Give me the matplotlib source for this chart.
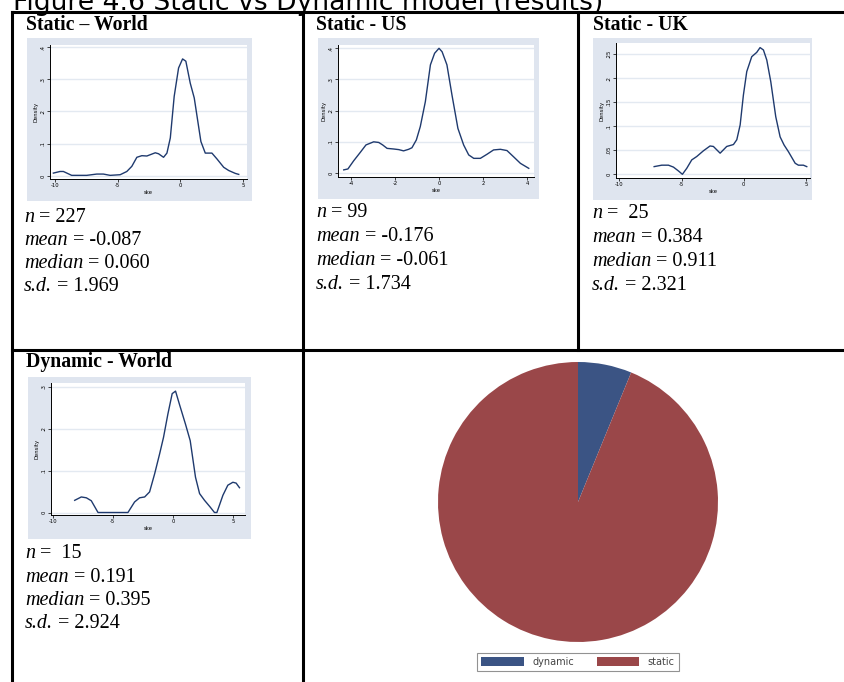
import matplotlib
matplotlib.use("Agg")
import matplotlib.pyplot as plt
from matplotlib.lines import Line2D

# ---------------- data ----------------
title = "Figure 4.6 Static vs Dynamic model (results)"
panel_titles = ["Static \u2013 World", "Static - US", "Static - UK", "Dynamic - World"]

world_x = [-10.13, -9.6, -9.33, -8.67, -7.47, -6.67, -6.14, -5.6, -4.8, -4.27, -3.87, -3.47, -3.07,
           -2.67, -2.0, -1.74, -1.34, -1.07, -0.8, -0.49, -0.14, 0.18, 0.44, 0.79, 1.11, 1.64,
           1.99, 2.52, 2.92, 3.46, 3.86, 4.39, 4.66]
world_y = [0.009, 0.014, 0.014, 0.002, 0.002, 0.006, 0.006, 0.002, 0.004, 0.014, 0.030, 0.058, 0.063,
           0.062, 0.072, 0.069, 0.058, 0.071, 0.118, 0.247, 0.335, 0.363, 0.356, 0.288, 0.242, 0.107,
           0.071, 0.071, 0.053, 0.027, 0.017, 0.008, 0.005]

us_x = [-4.33, -4.14, -3.88, -3.58, -3.32, -2.97, -2.74, -2.56, -2.36, -2.06, -1.83, -1.61, -1.38,
        -1.23, -1.03, -0.85, -0.62, -0.39, -0.2, 0.0, 0.14, 0.36, 0.59, 0.86, 1.12, 1.35, 1.58,
        1.88, 2.18, 2.48, 2.79, 3.09, 3.39, 3.70, 4.08]
us_y = [0.010, 0.013, 0.039, 0.066, 0.090, 0.100, 0.098, 0.090, 0.079, 0.077, 0.075, 0.071, 0.076,
        0.081, 0.106, 0.149, 0.229, 0.347, 0.384, 0.400, 0.389, 0.347, 0.250, 0.143, 0.090, 0.058,
        0.047, 0.047, 0.060, 0.074, 0.076, 0.072, 0.052, 0.031, 0.015]

uk_x = [-7.2, -6.59, -6.05, -5.65, -5.25, -4.93, -4.58, -4.18, -3.78, -3.24, -2.71, -2.44, -1.9,
        -1.37, -0.83, -0.56, -0.29, -0.03, 0.24, 0.64, 1.04, 1.31, 1.58, 1.85, 2.17, 2.57, 2.92,
        3.24, 3.59, 4.13, 4.39, 4.79, 5.06]
uk_y = [0.016, 0.019, 0.019, 0.015, 0.007, 0.000, 0.0125, 0.030, 0.037, 0.049, 0.059, 0.058, 0.044,
        0.058, 0.062, 0.072, 0.103, 0.165, 0.214, 0.245, 0.254, 0.264, 0.259, 0.238, 0.193, 0.120,
        0.078, 0.061, 0.047, 0.023, 0.019, 0.019, 0.016]

dyn_x = [-8.17, -7.62, -7.2, -6.79, -6.23, -3.74, -3.19, -2.77, -2.35, -1.94, -1.52, -1.11, -0.78,
         -0.42, -0.06, 0.22, 0.55, 1.05, 1.44, 1.88, 2.22, 2.63, 3.1, 3.46, 3.66, 4.16, 4.57,
         4.99, 5.26, 5.54]
dyn_y = [0.029, 0.037, 0.035, 0.028, 0.000, 0.000, 0.025, 0.035, 0.037, 0.049, 0.092, 0.139, 0.179,
         0.234, 0.283, 0.289, 0.257, 0.210, 0.171, 0.084, 0.045, 0.029, 0.013, 0.000, 0.000, 0.041,
         0.065, 0.072, 0.070, 0.059]

ticks_x_wide = [-10, -5, 0, 5]
ticks_x_us = [-4, -2, 0, 2, 4]
ticks_y_01 = [0, 0.1, 0.2, 0.3, 0.4]
ticks_y_uk = [0, 0.05, 0.1, 0.15, 0.2, 0.25]
ticks_y_dyn = [0, 0.1, 0.2, 0.3]

stat_labels = ["n", "mean", "median", "s.d."]
world_stats = ["227", "-0.087", "0.060", "1.969"]
us_stats = ["99", "-0.176", "-0.061", "1.734"]
uk_stats = [" 25", "0.384", "0.911", "2.321"]
dyn_stats = [" 15", "0.191", "0.395", "2.924"]

pie_labels = ["dynamic", "static"]
pie_values = [15, 227]

# ---------------- style ----------------
W, H = 845, 682
fig = plt.figure(figsize=(W / 100, H / 100), dpi=100)
fig.patch.set_facecolor('white')
renderer = fig.canvas.get_renderer()

REGION = '#DFE5EF'
GRID = '#E3E9F1'
LINE = '#1F3A6E'
BLUE = '#3B5484'
RED = '#9A4749'
SERIF = 'Liberation Serif'


def frect(x0, y0, x1, y1):
    return [x0 / W, 1 - y1 / H, (x1 - x0) / W, (y1 - y0) / H]


def fline(x0, y0, x1, y1, lw=2.2):
    fig.add_artist(Line2D([x0 / W, x1 / W], [1 - y0 / H, 1 - y1 / H],
                          transform=fig.transFigure, color='black', lw=lw,
                          solid_capstyle='projecting'))


def lims(p0, p1, ref_a, ref_b):
    s = (ref_b[1] - ref_a[1]) / (ref_b[0] - ref_a[0])
    return ref_a[1] + (p0 - ref_a[0]) * s, ref_a[1] + (p1 - ref_a[0]) * s


def fmt(v):
    if v == 0:
        return "0"
    s = ("%g" % v)
    return s.replace("0.", ".") if abs(v) < 1 else s


def mini(graph, box, xref, yref, xs, ys, xticks, yticks):
    gx0, gy0, gx1, gy1 = graph
    bg = fig.add_axes(frect(gx0, gy0, gx1, gy1))
    bg.set_facecolor(REGION)
    bg.set_xticks([]); bg.set_yticks([])
    for s in bg.spines.values():
        s.set_visible(False)
    bx0, by0, bx1, by1 = box
    ax = fig.add_axes(frect(bx0, by0, bx1, by1))
    ax.set_facecolor('white')
    ax.set_xlim(*lims(bx0, bx1, xref[0], xref[1]))
    ax.set_ylim(*lims(by1, by0, yref[0], yref[1]))
    for t in yticks:
        ax.axhline(t, color=GRID, lw=1.0, zorder=1)
    ax.plot(xs, ys, color=LINE, lw=1.0, zorder=3)
    ax.set_xticks(xticks)
    ax.set_xticklabels([fmt(t) for t in xticks])
    ax.set_yticks(yticks)
    ax.set_yticklabels([fmt(t) for t in yticks], rotation=90, va='center')
    ax.tick_params(axis='both', labelsize=3.8, length=2, width=0.6, pad=1.2, color='#222')
    ax.spines['top'].set_visible(False)
    ax.spines['right'].set_visible(False)
    ax.spines['left'].set_linewidth(0.7)
    ax.spines['bottom'].set_linewidth(0.7)
    ax.set_ylabel("Density", fontsize=3.8, labelpad=1.5)
    ax.set_xlabel("ske", fontsize=3.8, labelpad=1)
    return ax


# ---------------- title ----------------
fig.text(13 / W, 1 - 10 / H, title, fontsize=19.2, family='DejaVu Sans', va='baseline', ha='left')

# ---------------- table lines ----------------
fline(12, 12, 845, 12)
fline(12, 350, 845, 350)
fline(12, 12, 12, 682)
fline(303, 12, 303, 682)
fline(578, 12, 578, 350)

# ---------------- headings ----------------
head_pos = [(26, 25), (316, 25), (593, 25), (26, 362)]
for (hx, hy), t in zip(head_pos, panel_titles):
    fig.text(hx / W, 1 - hy / H, t, fontsize=14.2, family=SERIF,
             weight='bold', va='center', ha='left')

# ---------------- mini plots ----------------
mini((27, 38, 252, 201), (50, 45, 247, 179),
     ((55, -10), (243, 5)), ((176, 0), (47, 0.4)),
     world_x, world_y, ticks_x_wide, ticks_y_01)
mini((318, 38, 539, 199), (338, 45, 534, 177),
     ((351, -4), (527, 4)), ((173, 0), (48.3, 0.4)),
     us_x, us_y, ticks_x_us, ticks_y_01)
mini((593, 38, 812, 200), (616, 43, 810, 178),
     ((619.3, -10), (806, 5)), ((174.3, 0), (54.3, 0.25)),
     uk_x, uk_y, ticks_x_wide, ticks_y_uk)
mini((28, 377, 251, 539), (51, 383, 245, 515),
     ((52.7, -10), (233, 5)), ((512.5, 0), (386.5, 0.3)),
     dyn_x, dyn_y, ticks_x_wide, ticks_y_dyn)

# ---------------- stats ----------------
STAT_FS = 14.5


def stats_block(x, ys, vals):
    for y, lab, v in zip(ys, stat_labels, vals):
        t1 = fig.text(x / W, 1 - y / H, lab, fontsize=STAT_FS, family=SERIF,
                      style='italic', va='baseline', ha='left')
        w = t1.get_window_extent(renderer).width
        fig.text((x + w + 5) / W, 1 - y / H, "= " + v, fontsize=STAT_FS, family=SERIF,
                 va='baseline', ha='left')


stats_block(24, [222, 245, 268, 291], world_stats)
stats_block(316, [217, 241, 265, 289], us_stats)
stats_block(592, [218, 242, 266, 290], uk_stats)
stats_block(25, [558, 582, 605, 628], dyn_stats)

# ---------------- pie ----------------
pax = fig.add_axes(frect(437, 362, 719, 642))
wedges, _ = pax.pie(pie_values, colors=[BLUE, RED], startangle=90, counterclock=False,
                    wedgeprops=dict(linewidth=0))
pax.set_xlim(-1, 1)
pax.set_ylim(-1, 1)
pax.set_aspect('equal')
pax.axis('off')

leg = fig.legend(wedges, pie_labels, loc='center', bbox_to_anchor=(578 / W, 1 - 662 / H),
                 ncol=2, fontsize=7, handlelength=4.4, handleheight=1.05, columnspacing=2.3,
                 handletextpad=0.85, frameon=True, fancybox=False, borderpad=0.45,
                 labelcolor='#444444')
leg.get_frame().set_edgecolor('#777777')
leg.get_frame().set_linewidth(0.8)

fig.savefig("out.png", dpi=100)
